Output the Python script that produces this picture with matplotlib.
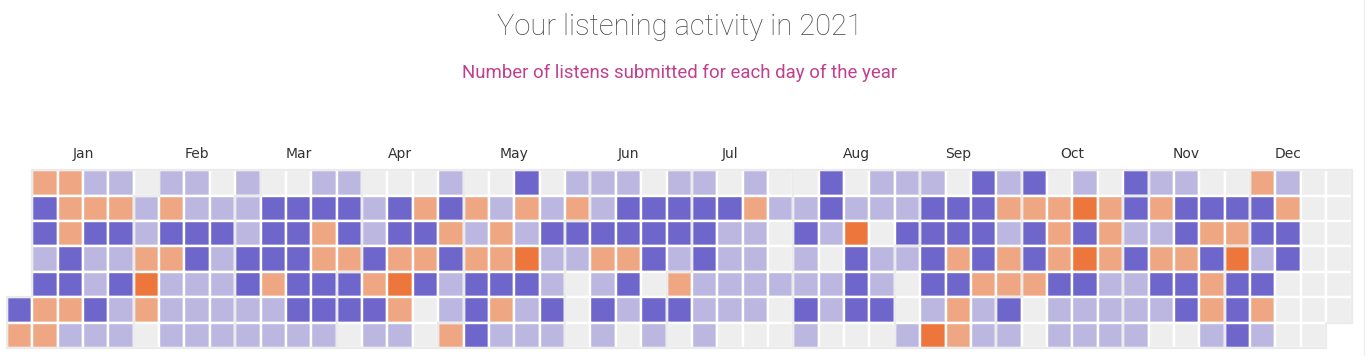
"""Calendar heatmap of listens per day (2021)."""
import matplotlib

matplotlib.use("Agg")

import matplotlib.pyplot as plt
import numpy as np
import pandas as pd
from matplotlib.colors import ListedColormap
from matplotlib.lines import Line2D
from matplotlib.patches import Polygon, Rectangle

YEAR = 2021
TITLE = f"Your listening activity in {YEAR}"
SUBTITLE = "Number of listens submitted for each day of the year"
MONTHS = ["Jan", "Feb", "Mar", "Apr", "May", "Jun",
          "Jul", "Aug", "Sep", "Oct", "Nov", "Dec"]

# activity level per cell, one string per weekday row (Sun..Sat), one char per week
# 0 = no listens, 1..4 = increasing number of listens, " " = not a day of the year
sun = " " + "3311011010011" + "0001002011101" + "1010020111021" + "2010211003100"
mon = " " + "2333131112222" + "1232313131222" + "2231121112223" + "3343232222300"
tue = " " + "2322122212232" + "1223131222222" + "2110214022221" + "2323112332200"
wed = " " + "1211332122233" + "2332334113321" + "2110102112323" + "2343233241200"
thu = " " + "2212411123222" + "3421222101203" + "1111112102233" + "3221122322000"
fri = "2" + "3321311111222" + "2301231202122" + "1110212201312" + "0111112323000"
sat = "3" + "3111011111110" + "1103211101010" + "1000100014311" + "011110012100 "
ROWS = [sun, mon, tue, wed, thu, fri, sat]

LEVEL_COLORS = ["#eeeeee", "#bcb7e0", "#6f66cc", "#eea782", "#ec763b"]
BORDER = "#ebebeb"

W, H, DPI = 1366, 356, 100
PITCH = 25.37
GRID_LEFT, GRID_TOP = 6.9, 170.3

fig = plt.figure(figsize=(W / DPI, H / DPI), dpi=DPI)
fig.patch.set_facecolor("white")
gw, gh = 53 * PITCH, 7 * PITCH
ax = fig.add_axes([GRID_LEFT / W, (H - GRID_TOP - gh) / H, gw / W, gh / H])
ax.set_xlim(0, 53)
ax.set_ylim(7, 0)
ax.axis("off")

cmap = ListedColormap(LEVEL_COLORS)
px = 72 / DPI  # points per pixel

days = pd.date_range(f"{YEAR}-01-01", f"{YEAR}-12-31", freq="D")
offset = (days[0].weekday() + 1) % 7
cols = (np.arange(len(days)) + offset) // 7
rows = (days.weekday + 1) % 7

for c, r in zip(cols, rows):
    level = int(ROWS[r][c])
    ax.add_patch(Rectangle((c, r), 1, 1, facecolor=cmap(level),
                           edgecolor="white", lw=2.4 * px))

# month borders and labels
for m in range(12):
    sel = days.month == m + 1
    mc, mr = cols[sel], rows[sel]
    c0, r0, c1, r1 = mc[0], mr[0], mc[-1], mr[-1]
    pts = [(c0, r0), (c0 + 1, r0), (c0 + 1, 0), (c1 + 1, 0), (c1 + 1, r1 + 1),
           (c1, r1 + 1), (c1, 7), (c0, 7)]
    ax.add_patch(Polygon(pts, closed=True, fill=False, edgecolor=BORDER,
                         lw=2.2 * px, joinstyle="miter", clip_on=False))
    ax.text((c0 + c1 + 1) / 2, -0.66, MONTHS[m], ha="center", va="center",
            fontsize=10, color="#333333", family="DejaVu Sans")

fig.text(680 / W, 1 - 27 / H, TITLE, ha="center", va="center",
         fontsize=21, color="#4a4a4a", family="Roboto", fontweight="light")
fig.text(680 / W, 1 - 73 / H, SUBTITLE, ha="center", va="center",
         fontsize=13.4, color="#c0408f", family="Roboto")

fig.add_artist(Line2D([1363.5 / W] * 2, [0, 1], color="#eeeeee", lw=1))

fig.savefig("out.png", dpi=DPI)
plt.close(fig)
